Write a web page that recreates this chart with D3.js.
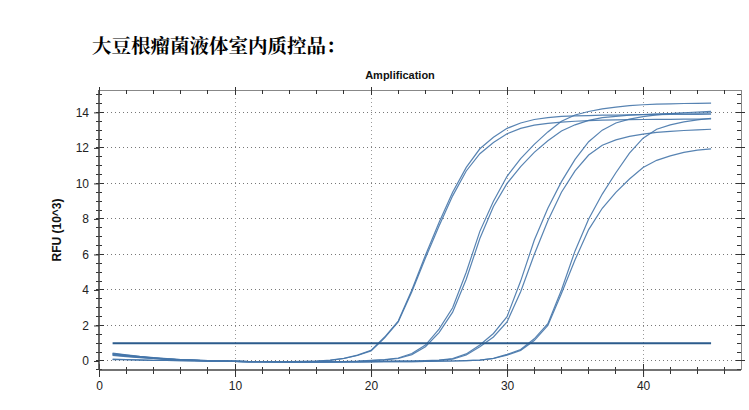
<!DOCTYPE html>
<html>
<head>
<meta charset="utf-8">
<script src="https://cdn.jsdelivr.net/npm/d3@7"></script>
<style>
  html, body { margin: 0; padding: 0; background: #fff; }
  svg { display: block; }
</style>
</head>
<body>
<svg id="chart" width="749" height="410"></svg>
<script>
// ---------------- data ----------------
const pageTitle = "大豆根瘤菌液体室内质控品：";
const chartTitle = "Amplification";
const yLabel = "RFU (10^3)";

const cycles = [1,2,3,4,5,6,7,8,9,10,11,12,13,14,15,16,17,18,19,20,21,22,23,24,25,26,27,28,29,30,31,32,33,34,35,36,37,38,39,40,41,42,43,44,45];

const xTickValues = [0, 10, 20, 30, 40];
const yTickValues = [0, 2, 4, 6, 8, 10, 12, 14];
const threshold = 1.0;

// RFU (x10^3) per cycle
const seriesA1 = [0.42,0.33,0.25,0.18,0.12,0.08,0.05,0.02,0.0,-0.02,-0.03,-0.04,-0.04,-0.03,-0.02,0.0,
  0.05,0.15,0.33,0.6,1.35,2.25,4.0,5.95,7.8,9.5,10.9,11.95,12.6,13.1,13.4,13.6,13.7,13.77,13.8,13.82,13.84,13.85,13.86,13.87,13.87,13.88,13.88,13.89,13.9];
const seriesA2 = [0.38,0.3,0.22,0.16,0.11,0.07,0.04,0.01,-0.01,-0.02,-0.03,-0.04,-0.04,-0.04,-0.03,-0.01,
  0.04,0.14,0.31,0.57,1.3,2.2,3.9,5.8,7.6,9.3,10.7,11.67,12.3,12.8,13.1,13.28,13.38,13.45,13.5,13.54,13.56,13.58,13.59,13.6,13.61,13.61,13.62,13.62,13.63];
const seriesB1 = [0.45,0.35,0.26,0.19,0.13,0.08,0.05,0.02,0.0,-0.02,-0.03,-0.04,-0.05,-0.05,-0.05,-0.05,-0.04,-0.03,
  -0.01,0.03,0.08,0.17,0.42,0.9,1.8,3.0,5.0,7.3,9.0,10.4,11.4,12.2,12.9,13.5,13.85,14.05,14.2,14.3,14.38,14.43,14.46,14.48,14.5,14.51,14.52];
const seriesB2 = [0.35,0.27,0.2,0.14,0.1,0.06,0.03,0.01,-0.01,-0.02,-0.03,-0.04,-0.05,-0.05,-0.05,-0.05,-0.04,-0.03,
  -0.02,0.02,0.06,0.14,0.36,0.8,1.6,2.75,4.6,6.9,8.7,10.0,10.95,11.75,12.4,12.95,13.3,13.55,13.7,13.78,13.84,13.88,13.91,13.93,13.95,13.96,13.97];
const seriesC1 = [0.4,0.31,0.23,0.17,0.11,0.07,0.04,0.01,-0.01,-0.02,-0.03,-0.04,-0.05,-0.05,-0.05,-0.05,-0.05,-0.04,-0.04,-0.03,-0.02,-0.01,
  0.0,0.02,0.05,0.14,0.4,0.9,1.55,2.5,4.5,6.8,8.6,10.1,11.35,12.35,13.0,13.4,13.62,13.76,13.86,13.93,13.98,14.02,14.06];
const seriesC2 = [0.32,0.25,0.19,0.14,0.09,0.06,0.03,0.01,-0.01,-0.02,-0.03,-0.04,-0.04,-0.05,-0.05,-0.05,-0.05,-0.04,-0.04,-0.03,-0.02,-0.01,
  0.0,0.01,0.04,0.11,0.34,0.8,1.35,2.2,3.9,6.0,7.9,9.5,10.7,11.6,12.15,12.45,12.65,12.78,12.87,12.93,12.98,13.02,13.05];
const seriesD1 = [0.1,0.08,0.06,0.04,0.03,0.02,0.01,0.0,-0.01,-0.02,-0.03,-0.04,-0.04,-0.05,-0.05,-0.05,-0.05,-0.05,-0.05,-0.04,-0.04,-0.03,-0.03,-0.02,-0.01,0.0,
  0.02,0.05,0.15,0.37,0.65,1.25,2.1,4.0,6.2,8.0,9.4,10.6,11.7,12.55,13.05,13.3,13.46,13.58,13.67];
const seriesD2 = [0.08,0.07,0.05,0.04,0.03,0.02,0.01,0.0,-0.01,-0.02,-0.03,-0.03,-0.04,-0.04,-0.05,-0.05,-0.05,-0.05,-0.05,-0.04,-0.04,-0.03,-0.03,-0.02,-0.01,0.0,
  0.02,0.05,0.14,0.33,0.6,1.15,2.0,3.8,5.7,7.4,8.6,9.5,10.25,10.9,11.3,11.55,11.75,11.87,11.95];

const allSeries = [seriesA1, seriesA2, seriesB1, seriesB2, seriesC1, seriesC2, seriesD1, seriesD2];

// ---------------- layout ----------------
const L = 99, R = 741, T = 90, B = 370;
const svg = d3.select("#chart");
svg.append("rect").attr("width", 749).attr("height", 410).attr("fill", "#fff");

const x = d3.scaleLinear().domain([0, 47.2]).range([L, R]);
const y = d3.scaleLinear().domain([-0.507, 15.26]).range([B, T]);

const sans = "'Liberation Sans', Arial, Helvetica, sans-serif";

// titles
svg.append("text")
  .attr("x", 92).attr("y", 53)
  .attr("font-family", "'Noto Serif CJK SC', 'Noto Sans CJK SC', sans-serif")
  .attr("font-weight", "bold")
  .attr("font-size", 19.5)
  .attr("fill", "#000")
  .text(pageTitle);

svg.append("text")
  .attr("x", 400).attr("y", 79)
  .attr("text-anchor", "middle")
  .attr("font-family", sans)
  .attr("font-weight", "bold")
  .attr("font-size", 11)
  .attr("fill", "#111")
  .text(chartTitle);

svg.append("text")
  .attr("transform", `translate(61,230) rotate(-90)`)
  .attr("text-anchor", "middle")
  .attr("font-family", sans)
  .attr("font-weight", "bold")
  .attr("font-size", 12)
  .attr("fill", "#111")
  .text(yLabel);

// grid
const grid = svg.append("g");
grid.selectAll("line.hg").data(yTickValues).enter().append("line")
  .attr("x1", L).attr("x2", R)
  .attr("y1", d => y(d)).attr("y2", d => y(d))
  .attr("stroke", "#777").attr("stroke-width", 1)
  .attr("stroke-dasharray", "1,3")
  .attr("shape-rendering", "crispEdges");
grid.selectAll("line.vg").data(xTickValues.filter(d => d > 0)).enter().append("line")
  .attr("x1", d => x(d)).attr("x2", d => x(d))
  .attr("y1", T).attr("y2", B)
  .attr("stroke", "#999").attr("stroke-width", 1)
  .attr("stroke-dasharray", "1,3")
  .attr("shape-rendering", "crispEdges");

// frame
const frame = svg.append("g").attr("shape-rendering", "crispEdges");
frame.append("line").attr("x1", L).attr("x2", R).attr("y1", T).attr("y2", T).attr("stroke", "#888");
frame.append("line").attr("x1", R).attr("x2", R).attr("y1", T).attr("y2", B).attr("stroke", "#888");

// minor ticks
const xMinor = d3.range(0, 47.1, 2);
const yMinor = d3.range(-0.5, 15.1, 0.5);
const tk = svg.append("g").attr("stroke", "#333").attr("shape-rendering", "crispEdges");
// left
tk.selectAll("line.lm").data(yMinor).enter().append("line")
  .attr("x1", L - 3).attr("x2", L + 3).attr("y1", d => y(d)).attr("y2", d => y(d));
tk.selectAll("line.lM").data(yTickValues).enter().append("line")
  .attr("x1", L).attr("x2", L + 5).attr("y1", d => y(d)).attr("y2", d => y(d));
// right
tk.selectAll("line.rm").data(yMinor).enter().append("line")
  .attr("x1", R - 4).attr("x2", R).attr("y1", d => y(d)).attr("y2", d => y(d));
tk.selectAll("line.rM").data(yTickValues).enter().append("line")
  .attr("x1", R - 5).attr("x2", R + 4).attr("y1", d => y(d)).attr("y2", d => y(d));
// bottom
tk.selectAll("line.bm").data(xMinor).enter().append("line")
  .attr("x1", d => x(d)).attr("x2", d => x(d)).attr("y1", B - 3).attr("y2", B + 4);
tk.selectAll("line.bM").data(xTickValues).enter().append("line")
  .attr("x1", d => x(d)).attr("x2", d => x(d)).attr("y1", B - 6).attr("y2", B);
// top
tk.selectAll("line.tm").data(xMinor).enter().append("line")
  .attr("x1", d => x(d)).attr("x2", d => x(d)).attr("y1", T).attr("y2", T + 4);
tk.selectAll("line.tM").data(xTickValues).enter().append("line")
  .attr("x1", d => x(d)).attr("x2", d => x(d)).attr("y1", T - 3).attr("y2", T + 5);

// axes with labels
const yAxis = svg.append("g").attr("transform", `translate(${L},0)`)
  .call(d3.axisLeft(y).tickValues(yTickValues).tickSize(5).tickPadding(5));
const xAxis = svg.append("g").attr("transform", `translate(0,${B})`)
  .call(d3.axisBottom(x).tickValues(xTickValues).tickSize(7).tickPadding(4));
[yAxis, xAxis].forEach(g => {
  g.select(".domain").attr("stroke", "#444").attr("stroke-width", 1.6);
  g.selectAll(".tick line").attr("stroke", "#333");
  g.selectAll(".tick text").attr("font-family", sans).attr("font-size", 12).attr("fill", "#222");
});
// trim domain ends to the frame
yAxis.select(".domain").attr("d", `M0,${T}V${B}`);
xAxis.select(".domain").attr("d", `M${L},0H${R}`);

// curves
const line = d3.line()
  .x((d, i) => x(cycles[i]))
  .y(d => y(d));

svg.append("g").selectAll("path").data(allSeries).enter().append("path")
  .attr("d", d => line(d))
  .attr("fill", "none")
  .attr("stroke", "#4575aa")
  .attr("stroke-width", 1.2)
  .attr("stroke-opacity", 0.9);

// threshold line
svg.append("line")
  .attr("x1", x(cycles[0])).attr("x2", x(cycles[cycles.length - 1]))
  .attr("y1", y(threshold)).attr("y2", y(threshold))
  .attr("stroke", "#2b5b8c").attr("stroke-width", 2);
</script>
</body>
</html>
